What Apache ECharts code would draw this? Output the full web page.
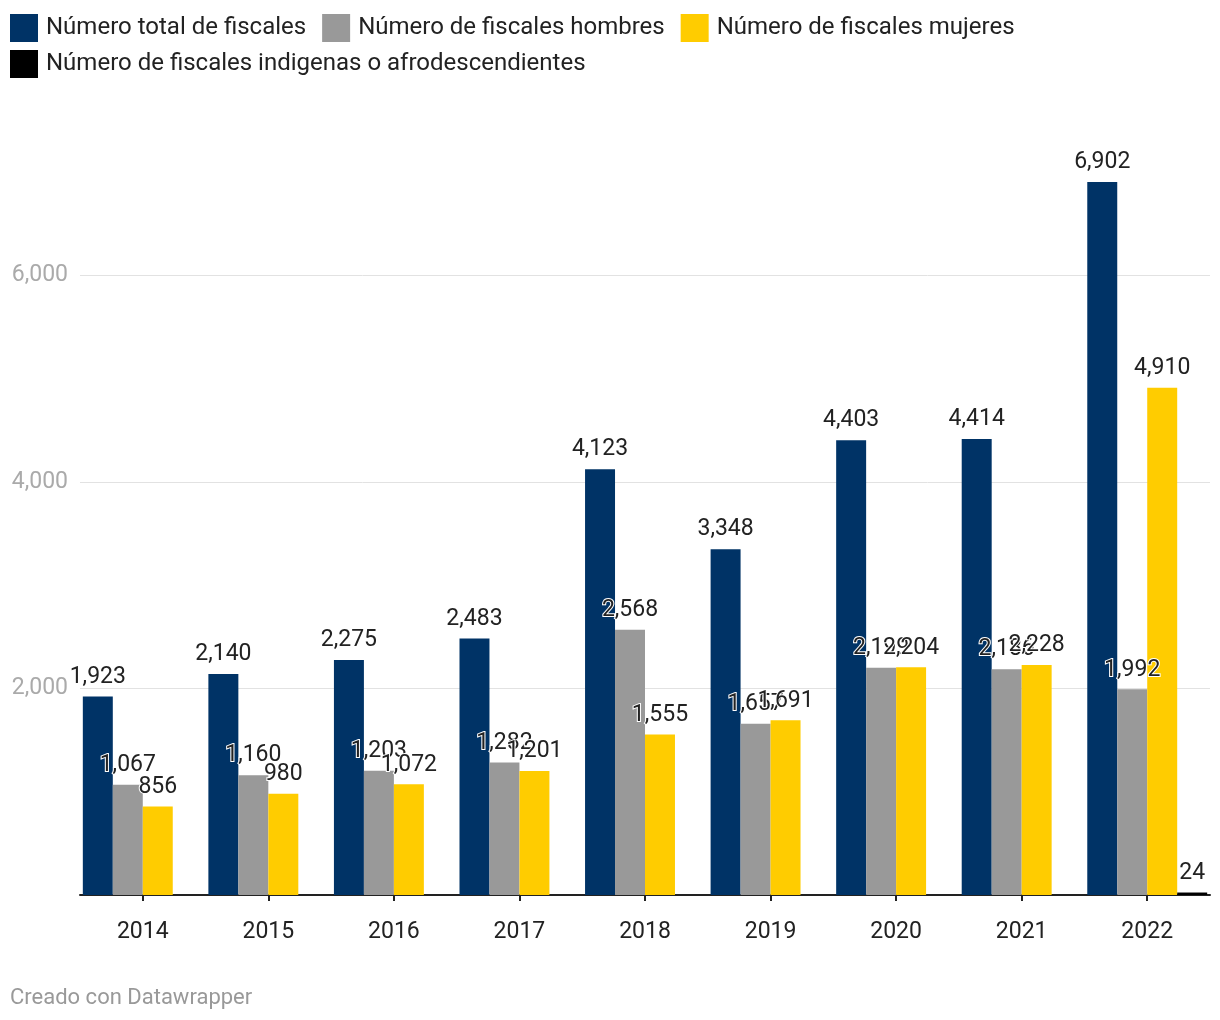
<!DOCTYPE html>
<html><head><meta charset="utf-8">
<script src="https://cdn.jsdelivr.net/npm/echarts@6/dist/echarts.min.js"></script>
<style>html,body{margin:0;padding:0;background:#fff}#c{width:1220px;height:1020px}</style>
</head><body><div id="c"></div>
<script>
const years = ['2014','2015','2016','2017','2018','2019','2020','2021','2022'];
const totalFiscales = [1923, 2140, 2275, 2483, 4123, 3348, 4403, 4414, 6902];
const hombres = [1067, 1160, 1203, 1282, 2568, 1657, 2199, 2186, 1992];
const mujeres = [856, 980, 1072, 1201, 1555, 1691, 2204, 2228, 4910];
const indigenas = [null, null, null, null, null, null, null, null, 24];
const seriesNames = ['Número total de fiscales','Número de fiscales hombres','Número de fiscales mujeres','Número de fiscales indigenas o afrodescendientes'];
const colors = ['#003366','#999999','#ffcc00','#000000'];

const chart = echarts.init(document.getElementById('c'));
const F = 'Roboto, sans-serif';
const lbl = {
  show: true, position: 'top', distance: 8, fontFamily: F, fontSize: 23, color: '#222',
  textBorderColor: '#fff', textBorderWidth: 2,
  formatter: p => p.value == null ? '' : p.value.toLocaleString('en-US')
};
const data = [totalFiscales, hombres, mujeres, indigenas];
const legTxt = {fontFamily: F, fontSize: 24, color: '#222', padding: [0,0,0,3]};
chart.setOption({
  animation: false,
  color: colors,
  textStyle: {fontFamily: F},
  legend: [
    {data: seriesNames.slice(0,3), left: 10, top: 14, itemWidth: 28, itemHeight: 28, itemGap: 16,
     icon: 'rect', textStyle: legTxt, padding: 0},
    {data: seriesNames.slice(3), left: 10, top: 50, itemWidth: 28, itemHeight: 28, itemGap: 16,
     icon: 'rect', textStyle: legTxt, padding: 0}
  ],
  grid: {left: 80, right: 10, top: 172, bottom: 125, containLabel: false},
  xAxis: {
    type: 'category', data: years,
    axisLine: {lineStyle: {color: '#222', width: 2}},
    axisTick: {show: true, alignWithLabel: true, length: 6, lineStyle: {color: '#222', width: 2}},
    axisLabel: {fontFamily: F, fontSize: 23, color: '#222', margin: 26}
  },
  yAxis: {
    type: 'value', min: 0, max: 7000, interval: 2000,
    axisLine: {show: false}, axisTick: {show: false},
    axisLabel: {fontFamily: F, fontSize: 23, color: '#aaa', margin: 12, padding: [4,0,0,0], showMaxLabel: false, showMinLabel: false},
    splitLine: {show: true, showMaxLine: false, showMinLine: false, lineStyle: {color: '#e2e2e2', width: 1}}
  },
  series: data.map((d, i) => ({
    name: seriesNames[i], type: 'bar', data: d, barGap: 0, barCategoryGap: '4.5%',
    itemStyle: {color: colors[i]}, label: lbl
  }))
});
</script>
<div style="position:absolute;left:10px;top:984px;font-family:Roboto,sans-serif;font-size:22px;color:#999">Creado con Datawrapper</div>
</body></html>
